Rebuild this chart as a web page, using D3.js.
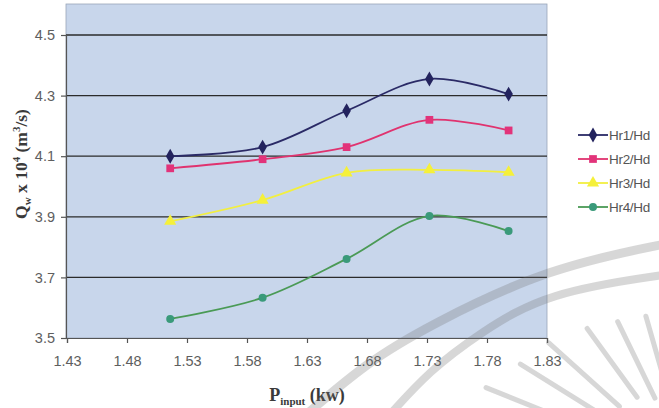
<!DOCTYPE html>
<html>
<head>
<meta charset="utf-8">
<script src="https://cdn.jsdelivr.net/npm/d3@7"></script>
<style>
  html, body { margin: 0; padding: 0; background: #ffffff; }
  svg { display: block; }
</style>
</head>
<body>
<svg id="chart" width="659" height="408"></svg>
<script>
// Input power (kW) at each measurement
const pInput = [1.516, 1.593, 1.663, 1.732, 1.798];

// Water flow rate Qw x 10^4 (m^3/s) for each head ratio
const hr1 = [4.10, 4.13, 4.25, 4.355, 4.305];
const hr2 = [4.06, 4.09, 4.13, 4.22, 4.185];
const hr3 = [3.885, 3.955, 4.045, 4.055, 4.047];
const hr4 = [3.563, 3.633, 3.761, 3.903, 3.853];

const seriesNames = ["Hr1/Hd", "Hr2/Hd", "Hr3/Hd", "Hr4/Hd"];
const xTicks = [1.43, 1.48, 1.53, 1.58, 1.63, 1.68, 1.73, 1.78, 1.83];
const yTicks = [3.5, 3.7, 3.9, 4.1, 4.3, 4.5];

const svg = d3.select("#chart");

const plot = { left: 66, right: 547, top: 4, bottom: 338 };
const x = d3.scaleLinear().domain([1.43, 1.83]).range([67, 547]);
const y = d3.scaleLinear().domain([3.5, 4.5]).range([338, 35]);

// Plot background
svg.append("rect")
  .attr("x", plot.left).attr("y", plot.top)
  .attr("width", plot.right - plot.left).attr("height", plot.bottom - plot.top)
  .attr("fill", "#c8d6eb")
  .attr("stroke", "#9aa6b8").attr("stroke-width", 0.8);

// Horizontal gridlines
svg.append("g").selectAll("line")
  .data(yTicks.filter(d => d > 3.5))
  .join("line")
  .attr("x1", plot.left).attr("x2", plot.right)
  .attr("y1", d => y(d)).attr("y2", d => y(d))
  .attr("stroke", "#2b2b2b").attr("stroke-width", 1.3);

// Axes
const xAxis = d3.axisBottom(x).tickValues(xTicks).tickFormat(d3.format(".2f"))
  .tickSize(5).tickPadding(8);
const yAxis = d3.axisLeft(y).tickValues(yTicks).tickFormat(d3.format(".1f"))
  .tickSize(5).tickPadding(6);

const gx = svg.append("g").attr("transform", `translate(0,${plot.bottom})`).call(xAxis);
const gy = svg.append("g").attr("transform", `translate(${plot.left},0)`).call(yAxis);

[gx, gy].forEach(g => {
  g.select(".domain").attr("stroke", "#555").attr("stroke-width", 1.2);
  g.selectAll(".tick line").attr("stroke", "#555").attr("stroke-width", 1.2);
  g.selectAll(".tick text")
    .attr("fill", "#5e5e5e")
    .style("font-family", "'Liberation Sans', Arial, sans-serif")
    .style("font-size", "14.5px");
});
gx.selectAll(".tick text").attr("dy", "1.05em");

// Series
const series = [
  { name: seriesNames[0], values: hr1, color: "#23235e", line: "#2a2a66", shape: d3.symbolDiamond, size: 64 },
  { name: seriesNames[1], values: hr2, color: "#e2337a", line: "#e0336f", shape: d3.symbolSquare, size: 60 },
  { name: seriesNames[2], values: hr3, color: "#f5f03a", line: "#f2ef40", shape: d3.symbolTriangle, size: 64 },
  { name: seriesNames[3], values: hr4, color: "#3a9a7a", line: "#4a9a55", shape: d3.symbolCircle, size: 50 }
];

const line = d3.line()
  .x((d, i) => x(pInput[i]))
  .y(d => y(d))
  .curve(d3.curveCatmullRom.alpha(0.5));

series.forEach(s => {
  svg.append("path")
    .attr("d", line(s.values))
    .attr("fill", "none")
    .attr("stroke", s.line)
    .attr("stroke-width", 1.8);
  svg.append("g").selectAll("path")
    .data(s.values)
    .join("path")
    .attr("transform", (d, i) => `translate(${x(pInput[i])},${y(d)})`)
    .attr("d", d3.symbol().type(s.shape).size(s.size))
    .attr("fill", s.color);
});

// Legend
const legend = svg.append("g").attr("transform", "translate(578,135)");
series.forEach((s, i) => {
  const g = legend.append("g").attr("transform", `translate(0,${i * 24})`);
  g.append("line").attr("x1", 0).attr("x2", 30).attr("y1", 0).attr("y2", 0)
    .attr("stroke", s.line).attr("stroke-width", 1.8);
  g.append("path").attr("transform", "translate(15,0)")
    .attr("d", d3.symbol().type(s.shape).size(s.size)).attr("fill", s.color);
  g.append("text").attr("x", 31).attr("y", 0).attr("dy", "0.35em")
    .attr("fill", "#555")
    .style("font-family", "'Liberation Sans', Arial, sans-serif")
    .style("font-size", "13.5px")
    .style("letter-spacing", "-0.3px")
    .text(s.name);
});

// Axis titles
const xt = svg.append("text")
  .attr("x", 307).attr("y", 401)
  .attr("text-anchor", "middle")
  .attr("fill", "#3a3a3a")
  .style("font-family", "'Liberation Serif', 'Times New Roman', serif")
  .style("font-weight", "bold")
  .style("font-size", "18px");
xt.append("tspan").text("P");
xt.append("tspan").attr("dy", 4).style("font-size", "11px").text("input");
xt.append("tspan").attr("dy", -4).text(" (kw)");

const yt = svg.append("text")
  .attr("transform", "translate(27,164) rotate(-90)")
  .attr("text-anchor", "middle")
  .attr("fill", "#3a3a3a")
  .style("font-family", "'Liberation Serif', 'Times New Roman', serif")
  .style("font-weight", "bold")
  .style("font-size", "17.5px");
yt.append("tspan").text("Q");
yt.append("tspan").attr("dy", 4).style("font-size", "11px").text("w");
yt.append("tspan").attr("dy", -4).text(" x 10");
yt.append("tspan").attr("dy", -7).style("font-size", "11px").text("4");
yt.append("tspan").attr("dy", 7).text(" (m");
yt.append("tspan").attr("dy", -7).style("font-size", "11px").text("3");
yt.append("tspan").attr("dy", 7).text("/s)");

// Faint emblem lines in the lower right
const mark = svg.append("g").attr("fill", "none").attr("stroke", "rgba(110,110,110,0.28)")
  .attr("stroke-linecap", "round");
const arcLine = d3.line().curve(d3.curveBasis);
mark.append("path").attr("stroke-width", 9)
  .attr("d", arcLine([[300, 420], [367, 362], [430, 325], [547, 268], [670, 243]]));
mark.append("path").attr("stroke-width", 8)
  .attr("d", arcLine([[385, 420], [430, 370], [480, 333], [547, 292], [670, 274]]));
const cx = 690, cy = 470;
const rays = [[-168, 230, 120], [-158, 220, 110], [-148, 200, 100], [-138, 190, 95], [-126, 175, 90], [-116, 165, 80], [-106, 160, 75], [-97, 155, 75]];
rays.forEach(([a, r1, r0]) => {
  const t = a * Math.PI / 180;
  mark.append("line")
    .attr("x1", cx + r1 * Math.cos(t)).attr("y1", cy + r1 * Math.sin(t))
    .attr("x2", cx + r0 * Math.cos(t)).attr("y2", cy + r0 * Math.sin(t))
    .attr("stroke-width", 5);
});
</script>
</body>
</html>
